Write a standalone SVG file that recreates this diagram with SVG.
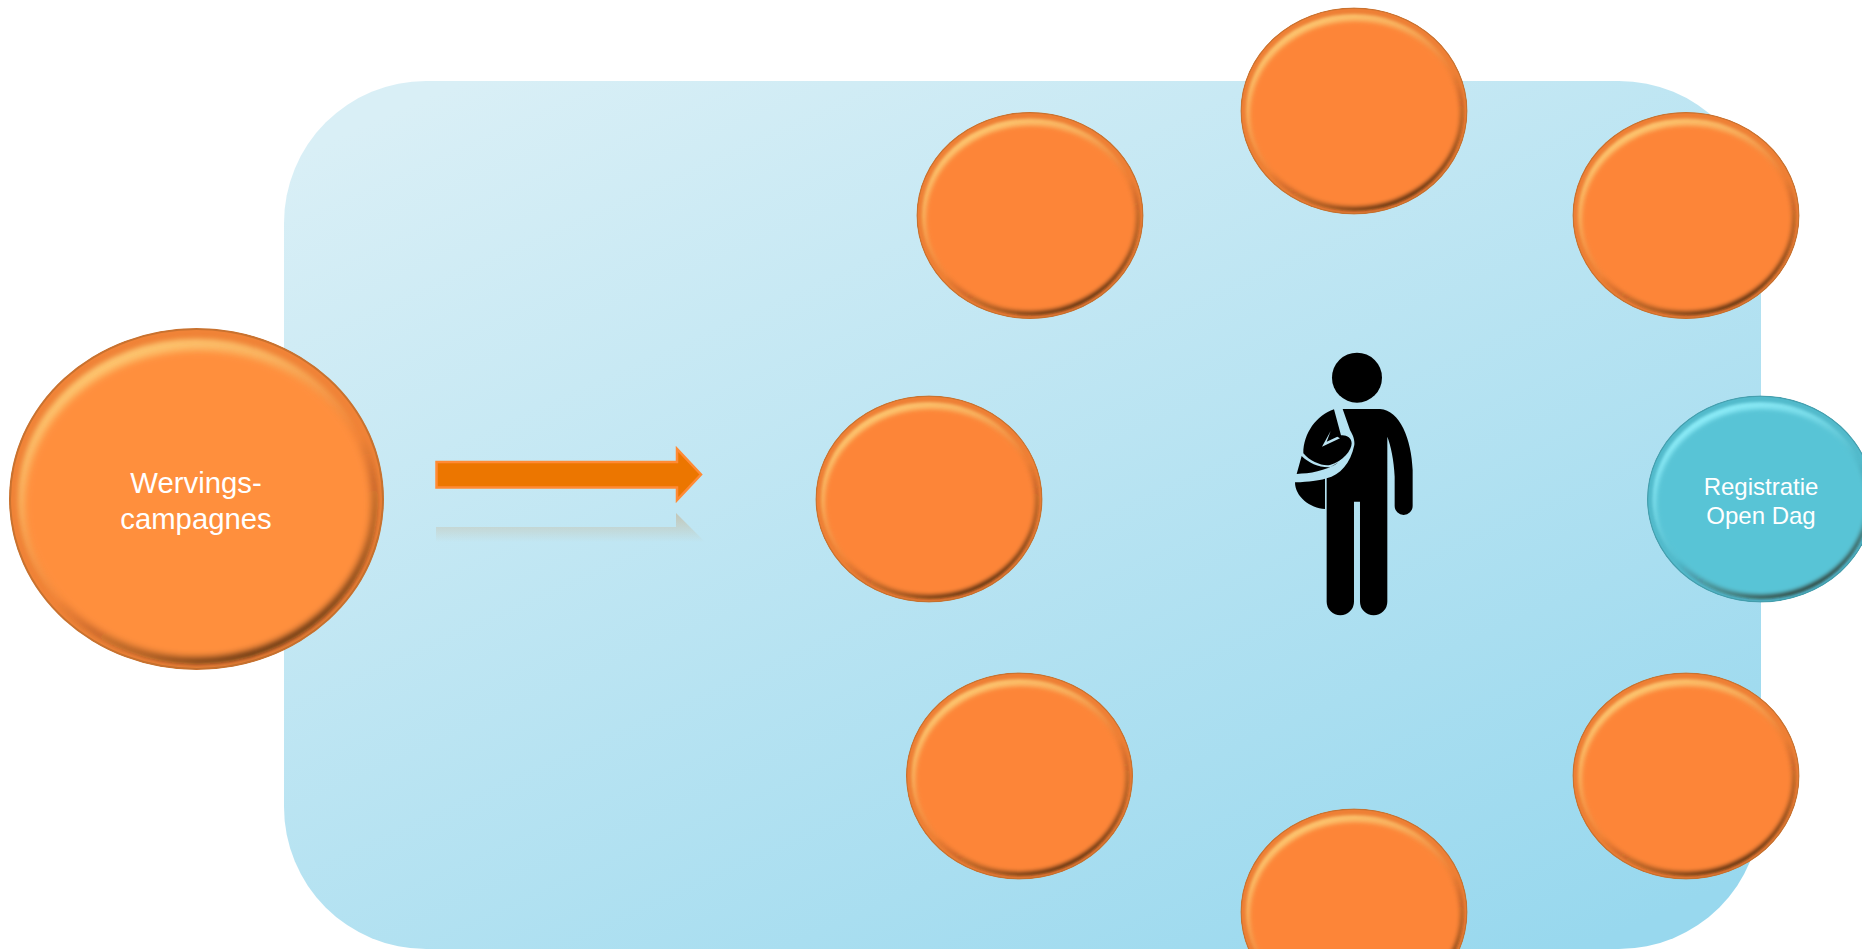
<svg xmlns="http://www.w3.org/2000/svg" width="1862" height="949" viewBox="0 0 1862 949">
<style>
text{font-family:"Liberation Sans",Arial,sans-serif;fill:#fff;text-anchor:middle}
.big{font-size:29.3px}
.small{font-size:24px}
.face{fill:var(--face)}
.hl{fill:var(--hl)}
.rim{fill:var(--rim);stroke:var(--edge);stroke-width:1.500}
.orange{--face:#fd8539;--hl:#ffd27a;--rim:#ee7f35;--edge:#c9722f}
.orange-big{--face:#ff8f3d;--hl:#ffd27a;--rim:#f08337;--edge:#c9722f}
.teal{--face:#58c4d6;--hl:#96f4ff;--rim:#52bacb;--edge:#459fae}
</style>
<defs>
<linearGradient id="bg" x1="0.12" y1="0" x2="0.88" y2="1"><stop offset="0" stop-color="#d9eff6"/><stop offset="1" stop-color="#98d8ee"/></linearGradient>
<linearGradient id="dark" x1="0.25" y1="0.1" x2="0.75" y2="0.95"><stop offset="0.55" stop-color="#301804" stop-opacity="0"/><stop offset="0.82" stop-color="#301804" stop-opacity="0.4"/><stop offset="1" stop-color="#200f02" stop-opacity="0.85"/></linearGradient>
<linearGradient id="lightMask" x1="0.2" y1="0" x2="0.55" y2="0.55"><stop offset="0" stop-color="#fff" stop-opacity="1"/><stop offset="0.55" stop-color="#fff" stop-opacity="0.6"/><stop offset="1" stop-color="#fff" stop-opacity="0"/></linearGradient>
<linearGradient id="reflect" x1="0" y1="513" x2="0" y2="542" gradientUnits="userSpaceOnUse"><stop offset="0" stop-color="#c99a63" stop-opacity="0.42"/><stop offset="1" stop-color="#c99a63" stop-opacity="0"/></linearGradient>
<filter id="b1" x="-10%" y="-10%" width="120%" height="120%"><feGaussianBlur stdDeviation="1.5"/></filter>
<filter id="b2" x="-10%" y="-10%" width="120%" height="120%"><feGaussianBlur stdDeviation="2.2"/></filter>
<clipPath id="outer"><ellipse cx="0" cy="0" rx="113.500" ry="103.500"/></clipPath>
<mask id="hlm" maskUnits="userSpaceOnUse" x="-120" y="-110" width="240" height="220"><rect x="-120" y="-110" width="240" height="220" fill="url(#lightMask)"/></mask>
<g id="ball">
<g clip-path="url(#outer)">
<ellipse class="rim" rx="113" ry="103"/>
<ellipse rx="110" ry="100" fill="url(#dark)" filter="url(#b1)"/>
<g mask="url(#hlm)"><ellipse class="hl" rx="108" ry="97" filter="url(#b1)"/></g>
<ellipse class="face" rx="105" ry="93" cy="3" cx="1" filter="url(#b2)"/>
</g>
</g>
</defs>
<rect id="panel" x="284" y="81" width="1477" height="868" rx="142" ry="142" fill="url(#bg)"/>
<g id="connectors">
<polygon points="436,527 676,527 676,513 704,541 704,542 436,542" fill="url(#reflect)"/>
<polygon points="436.500,462 677,462 677,449 701,474.500 677,500 677,487.500 436.500,487.500" fill="#ec7600" stroke="#ff8a35" stroke-width="2.500"/>
</g>
<g id="node-wervings" class="orange-big">
<use href="#ball" transform="translate(196.500 499) scale(1.652 1.652)"/>
<text class="big" x="196" y="492.500">Wervings-</text>
<text class="big" x="196" y="528.500">campagnes</text>
</g>
<g id="node-1" class="orange"><use href="#ball" transform="translate(1030 215.500)"/></g>
<g id="node-2" class="orange"><use href="#ball" transform="translate(1354 111)"/></g>
<g id="node-3" class="orange"><use href="#ball" transform="translate(1686 215.500)"/></g>
<g id="node-4" class="orange"><use href="#ball" transform="translate(929 499)"/></g>
<g id="node-5" class="orange"><use href="#ball" transform="translate(1019.500 776)"/></g>
<g id="node-6" class="orange"><use href="#ball" transform="translate(1686 776)"/></g>
<g id="node-7" class="orange"><use href="#ball" transform="translate(1354 912)"/></g>
<g id="node-registratie" class="teal">
<use href="#ball" transform="translate(1760.500 499)"/>
<text class="small" x="1761" y="495">Registratie</text>
<text class="small" x="1761" y="524">Open Dag</text>
</g>
<g id="student" transform="translate(1260 330) scale(0.3333)" fill="#000">
<circle cx="291" cy="143" r="75"/>
<path d="M248 237H360C420 240 455 330 458 420V528A27 27 0 0 1 404 528V440C402 390 392 345 382 320V815A41 41 0 0 1 300 815V515H282V815A41 41 0 0 1 200 815V445C240 435 272 400 283 345C285 325 275 310 270 300Z"/>
<path d="M222 238C170 255 130 310 130 370C150 395 190 410 210 405C250 395 275 360 275 340C275 322 258 314 243 316Z"/>
<path d="M212 303L186 350L240 325L232 320L200 335Z" fill="#bce4f2"/>
<path d="M125 378L110 432C150 430 195 425 235 397C225 405 215 412 205 412C175 412 145 398 125 378Z"/>
<path d="M105 457C150 455 175 452 195 446V537C150 535 105 500 105 457Z"/>
</g>
</svg>
